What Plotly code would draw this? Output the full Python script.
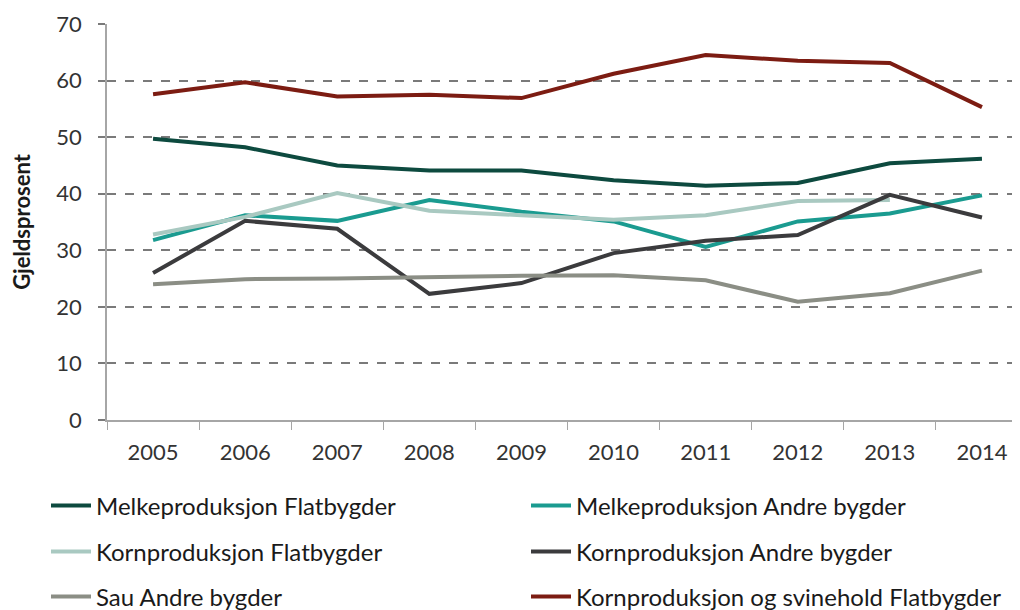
import plotly.graph_objects as go

years = ["2005", "2006", "2007", "2008", "2009", "2010", "2011", "2012", "2013", "2014"]

melk_flat = [49.7, 48.2, 45.0, 44.1, 44.1, 42.4, 41.4, 41.9, 45.4, 46.2]
melk_andre = [31.8, 36.2, 35.2, 38.9, 36.8, 35.1, 30.6, 35.1, 36.5, 39.7]
korn_flat = [32.8, 35.9, 40.1, 37.0, 36.2, 35.4, 36.2, 38.7, 38.9, None]
korn_andre = [26.0, 35.2, 33.8, 22.3, 24.2, 29.5, 31.7, 32.7, 39.8, 35.8]
sau_andre = [24.0, 24.9, 25.0, 25.3, 25.5, 25.6, 24.7, 20.9, 22.4, 26.4]
korn_svin = [57.6, 59.7, 57.2, 57.5, 56.9, 61.2, 64.5, 63.5, 63.1, 55.3]

names = [
    "Melkeproduksjon Flatbygder",
    "Melkeproduksjon Andre bygder",
    "Kornproduksjon Flatbygder",
    "Kornproduksjon Andre bygder",
    "Sau Andre bygder",
    "Kornproduksjon og svinehold Flatbygder",
]
series = [melk_flat, melk_andre, korn_flat, korn_andre, sau_andre, korn_svin]
colors = ["#0d4a3f", "#1a9b90", "#a9c9c1", "#3b3b3d", "#8b8e85", "#7c1c12"]

FONT = "Lato, 'Open Sans', sans-serif"
W, H = 1012, 602
OFF = 8  # page body margin

fig = go.Figure()
legend_layout = {}
for i, (name, vals, col) in enumerate(zip(names, series, colors)):
    lid = "legend" if i == 0 else f"legend{i + 1}"
    row, colm = divmod(i, 2)
    ypix = [506, 552, 597][row]
    xpix = [46, 526][colm]
    fig.add_trace(go.Scatter(
        x=years, y=vals, name=name, mode="lines",
        line=dict(color=col, width=4),
        legend=lid,
    ))
    legend_layout[lid] = dict(
        orientation="h", xanchor="left", yanchor="middle",
        xref="container", yref="container",
        x=(xpix - OFF) / W, y=1 - (ypix - OFF) / H,
        font=dict(family=FONT, size=24, color="#1a1a1a"),
        bgcolor="rgba(0,0,0,0)", itemwidth=40,
    )

fig.update_layout(
    width=W, height=H,
    paper_bgcolor="white", plot_bgcolor="white",
    margin=dict(l=99, r=0, t=16, b=190, autoexpand=False),
    font=dict(family=FONT, size=22, color="#333333"),
    showlegend=True,
    xaxis=dict(
        type="category",
        range=[-0.5, 9.413],
        showgrid=False,
        showline=True, linecolor="#a6a6a6", linewidth=1.5,
        ticks="outside", tickson="boundaries", ticklen=8, tickcolor="#a6a6a6",
        tickfont=dict(family=FONT, size=22, color="#333333"),
        ticklabelstandoff=12,
        zeroline=False,
    ),
    yaxis=dict(
        range=[0, 70],
        tickvals=[0, 10, 20, 30, 40, 50, 60, 70],
        showgrid=True, gridcolor="#7a7a7a", griddash="dash", gridwidth=1.5,
        showline=True, linecolor="#a6a6a6", linewidth=1.5,
        ticks="outside", ticklen=7, tickcolor="#7a7a7a", tickwidth=1.5,
        tickfont=dict(family=FONT, size=22, color="#333333"),
        ticklabelstandoff=12,
        zeroline=False,
        title=dict(text="<b>Gjeldsprosent</b>", font=dict(family=FONT, size=22, color="#1a1a1a"), standoff=26),
    ),
    **legend_layout,
)

fig.write_html("out.html")
